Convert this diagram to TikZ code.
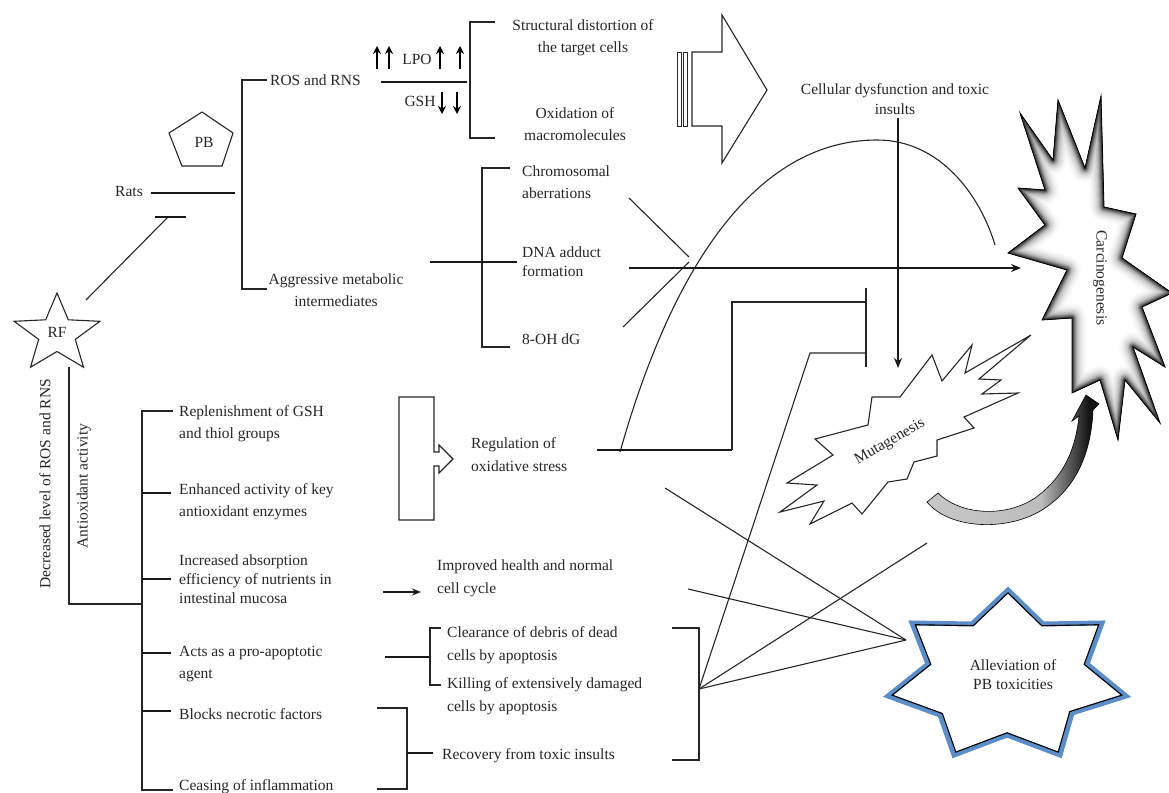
\documentclass[tikz,border=0pt]{standalone}
\usepackage{fontspec}
\setmainfont{Liberation Serif}
\usetikzlibrary{arrows.meta}
\definecolor{starblue}{RGB}{91,141,200}
\pgfdeclarehorizontalshading{arrowshade}{100bp}{color(0bp)=(black!22); color(25bp)=(black!22); color(58bp)=(black!26); color(72bp)=(black!92); color(100bp)=(black)}
\begin{document}
\begin{tikzpicture}[x=1pt,y=-1pt,
  every node/.style={font=\fontsize{15.5}{22}\selectfont, text=black!85, inner sep=0pt},
  ln/.style={line width=1.1pt, draw=black!85},
  thk/.style={line width=1.8pt, draw=black!90},
  tipa/.style={-{Stealth[length=10pt,width=8pt]}},
  smalltip/.style={line width=2pt, draw=black, -{Stealth[length=8pt,width=8pt]}},
  lt/.style={anchor=west, align=left},
  ct/.style={align=center}]
\useasboundingbox (0,0) rectangle (1169,792);

% ---------- RF star and PB pentagon ----------
\draw[ln, line join=miter] (57,293) -- (45.7,319.8) -- (14.1,321.3) -- (38.7,339.4) -- (30.5,367.2) -- (57,351.5) -- (83.5,367.2) -- (75.3,339.4) -- (99.9,321.3) -- (68.3,319.8) -- cycle;
\node (rf) at (57,332) {RF};
\draw[ln] (202,112) -- (233,133) -- (222,166) -- (182,166) -- (169,133) -- cycle;
\node (pb) at (204,142) {PB};

% ---------- Rats ----------
\node[anchor=east] (rats) at (143,191) {Rats};
\coordinate (ratsA) at (151,193); \coordinate (ratsB) at (235,193);
\draw[thk] (ratsA) -- (ratsB);
\coordinate (inhA) at (86,300); \coordinate (inhB) at (168,217);
\draw[ln] (inhA) -- (inhB);
\draw[thk] (155,217) -- (186,217);

% ---------- ROS bracket ----------
\draw[ln] (267,80) -- (242,80) -- (242,289) -- (267,289);
\node[lt] (ros) at (270,80) {ROS and RNS};
\node[ct] (aggr) at (336,290) {Aggressive metabolic\\intermediates};

% LPO / GSH
\draw[smalltip] (377,69) -- (377,46);
\draw[smalltip] (389,69) -- (389,46);
\node (lpo) at (417,59) {LPO};
\draw[smalltip] (440,69) -- (440,46);
\draw[smalltip] (460,69) -- (460,46);
\draw[thk] (381,82) -- (467,82);
\node (gsh) at (420,101) {GSH};
\draw[smalltip] (442,92) -- (442,114);
\draw[smalltip] (457,92) -- (457,114);

% bracket structural / oxidation
\draw[ln] (495,22) -- (470,22) -- (470,138) -- (495,138);
\node[ct] (struct) at (583,38) {Structural distortion of\\the target cells};
\node[ct] (oxid) at (575,124) {Oxidation of\\macromolecules};

% block arrow
\draw[line width=0.8pt, black!85] (677,52) rectangle (681,126);
\draw[line width=0.8pt, black!85] (683,52) rectangle (687,126);
\draw[ln, line join=miter] (692,52) -- (722,52) -- (722,15) -- (767,90) -- (722,163) -- (722,126) -- (692,126) -- cycle;

% ---------- Chromosomal bracket ----------
\draw[ln] (510,168) -- (482,168) -- (482,347) -- (510,347);
\draw[thk] (430,262) -- (517,262);
\node[lt] (chrom) at (522,182) {Chromosomal\\aberrations};
\node[lt, font=\fontsize{15.5}{19}\selectfont] (dna) at (522,262) {DNA adduct\\formation};
\node[lt] (ohdg) at (522,339) {8-OH dG};
\draw[ln] (629,198) -- (689,257);
\draw[ln] (623,327) -- (689,262);

% arch
\draw[ln] (620,452) .. controls (680,240) and (770,140) .. (877,140) .. controls (940,140) and (980,195) .. (995,245);

% ---------- Cellular dysfunction ----------
\node[ct, font=\fontsize{15.5}{20}\selectfont] (cell) at (895,99) {Cellular dysfunction and toxic\\insults};
\coordinate (cellA) at (898,118); \coordinate (cellB) at (898,368);
\draw[thk, tipa] (cellA) -- (cellB);

% ---------- Carcinogenesis star ----------
\def\carcpath{(1020,113) -- (1053,160) -- (1058,100) -- (1085,168) -- (1101,96) -- (1104,207) -- (1136,214) -- (1122,258) -- (1172,293) -- (1142,307) -- (1165,367) -- (1133,347) -- (1160,423) -- (1125,380) -- (1118,440) -- (1100,380) -- (1072,393) -- (1072,318) -- (1042,320) -- (1067,270) -- (1008,253) -- (1045,225) -- (1018,188) -- (1045,190) -- cycle}
\begin{scope}
  \clip \carcpath;
  \fill[white] \carcpath;
  \foreach \w/\c in {28/2,25/4,22/7,19/11,16/16,13/23,10/32,8/42,6/52,4.5/62,3/72,1.5/82}{
    \draw[line width=\w pt, black!\c, line join=round] \carcpath;
  }
\end{scope}
\draw[line width=0.8pt, black, line join=miter] \carcpath;
\node[rotate=-90] (carc) at (1100,278) {Carcinogenesis};

% horizontal arrow to carcinogenesis
\coordinate (hA) at (629,268); \coordinate (hB) at (1021,268);
\draw[thk, tipa] (hA) -- (hB);

% ---------- Mutagenesis star ----------
\draw[ln, line join=miter] (932,355) -- (942,381) -- (972,345) -- (965,373) -- (1031,335) -- (979,379) -- (1001,380) -- (982,394) -- (1018,393) -- (964,417) -- (974,428) -- (937,440) -- (937,456) -- (914,462) -- (907,479) -- (888,482) -- (862,514) -- (852,503) -- (810,524) -- (824,501) -- (780,512) -- (817,485) -- (787,483) -- (833,455) -- (815,439) -- (868,425) -- (872,397) -- (900,397) -- cycle;
\node[rotate=30] (muta) at (890,442) {Mutagenesis};

% curved arrow mutagenesis -> carcinogenesis
\shade[shading=arrowshade, draw=black, line width=0.6pt]
  (927,502) .. controls (950,530) and (1010,532) .. (1045,508)
  .. controls (1075,488) and (1091,455) .. (1093,410)
  -- (1099,404) -- (1086,395) -- (1072,421) -- (1079,416)
  .. controls (1075,455) and (1060,480) .. (1035,498)
  .. controls (1005,518) and (960,515) .. (938,493) -- cycle;

% inhibition lines into T-bar
\draw[line width=1.4pt, black!85] (866,288) -- (866,367);
\coordinate (regEnd) at (597,450);
\draw[thk] (regEnd) -- (732,450);
\draw[ln] (732,450) -- (732,302) -- (866,302);
\coordinate (fan) at (699,689);
\draw[ln] (fan) -- (810,353) -- (866,353);

% ---------- Left antioxidant tree ----------
\node[rotate=90] (decr) at (45,484) {Decreased level of ROS and RNS};
\node[rotate=90] (antiox) at (84,486) {Antioxidant activity};
\draw[ln] (69,367) -- (69,604) -- (142,604);
\draw[ln] (173,411) -- (142,411) -- (142,790) -- (173,790);
\foreach \yy in {493,579,653,711} \draw[thk] (142,\yy) -- (171,\yy);

\node[lt] (repl) at (179,424) {Replenishment of GSH\\and thiol groups};
\node[lt] (enh) at (179,502) {Enhanced activity of key\\antioxidant enzymes};
\node[lt, font=\fontsize{15.5}{19}\selectfont] (incr) at (179,579) {Increased absorption\\efficiency of nutrients in\\intestinal mucosa};
\node[lt] (acts) at (179,664) {Acts as a pro-apoptotic\\agent};
\node[lt] (blocks) at (179,714) {Blocks necrotic factors};
\node[lt] (ceas) at (179,787) {Ceasing of inflammation};

% regulation block arrow
\draw[ln, line join=miter] (399,397) -- (434,397) -- (434,452) -- (439,452) -- (439,445) -- (453,459) -- (439,473) -- (439,466) -- (434,466) -- (434,520) -- (399,520) -- cycle;
\node[lt, font=\fontsize{15.5}{23}\selectfont] (reg) at (471,455) {Regulation of\\oxidative stress};

% improved health
\coordinate (impA) at (383,592); \coordinate (impB) at (421,592);
\draw[thk, -{Stealth[length=9pt,width=7pt]}] (impA) -- (impB);
\node[lt, font=\fontsize{15.5}{23}\selectfont] (imp) at (437,578) {Improved health and normal\\cell cycle};

% apoptosis bracket
\draw[thk] (385,657) -- (430,657);
\draw[ln] (441,628) -- (430,628) -- (430,685) -- (441,685);
\node[lt, font=\fontsize{15.5}{23}\selectfont] (clear) at (447,645) {Clearance of debris of dead\\cells by apoptosis};
\node[lt, font=\fontsize{15.5}{23}\selectfont] (kill) at (447,696) {Killing of extensively damaged\\cells by apoptosis};

% recovery bracket
\draw[ln] (377,708) -- (407,708) -- (407,789) -- (377,789);
\draw[thk] (407,753) -- (433,753);
\node[lt] (recov) at (442,756) {Recovery from toxic insults};

% right bracket and fan
\draw[ln] (672,628) -- (699,628) -- (699,760) -- (672,760);
\coordinate (conv) at (906,640);
\draw[ln] (665,488) -- (conv);
\draw[ln] (688,589) -- (conv);
\draw[ln] (fan) -- (conv);
\draw[ln] (fan) -- (927,543);

% ---------- Alleviation star ----------
\def\allevpath{(1008,590) -- (1043,624) -- (1102,623) -- (1087,664) -- (1126,696) -- (1072,713) -- (1060,755) -- (1007,735) -- (954,755) -- (940,715) -- (888,696) -- (928,664) -- (912,623) -- (972,624) -- cycle}
\draw[starblue, line width=5pt, line join=miter] \allevpath;
\begin{scope}[shift={(1007,672)}, scale=0.965, shift={(-1007,-672)}]
  \draw[black, line width=1.1pt, line join=miter] \allevpath;
\end{scope}
\node[ct, font=\fontsize{15.5}{19}\selectfont] (allev) at (1013,675) {Alleviation of\\PB toxicities};
\end{tikzpicture}
\end{document}
